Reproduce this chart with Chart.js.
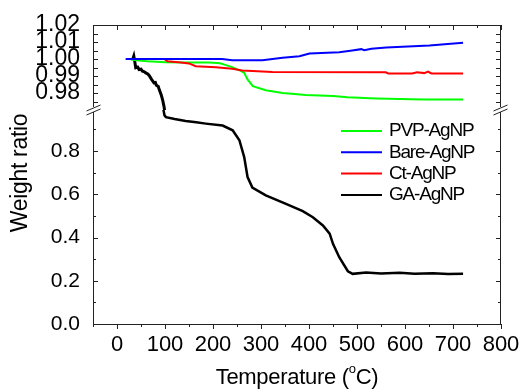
<!DOCTYPE html>
<html>
<head>
<meta charset="utf-8">
<script src="https://cdn.jsdelivr.net/npm/chart.js@4.4.0/dist/chart.umd.min.js"></script>
<style>
  html, body { margin: 0; padding: 0; background: #fff; }
</style>
</head>
<body>
<canvas id="tga" width="523" height="389"></canvas>
<script>
// Weight ratio vs temperature (TGA)
var bareTemp = [18, 100, 219, 240, 303, 345, 380, 401, 463, 490, 509, 515, 530, 561, 651, 721];
var bareRatio = [1.000, 1.000, 1.000, 0.9993, 0.9993, 1.0007, 1.0016, 1.0032, 1.0040, 1.0050, 1.0058, 1.0052, 1.0060, 1.0068, 1.0080, 1.0095];

var ctTemp = [25, 98, 105, 133, 150, 164, 206, 240, 261, 324, 560, 565, 615, 625, 640, 648, 655, 721];
var ctRatio = [1.000, 1.000, 0.9987, 0.998, 0.9974, 0.9958, 0.9952, 0.9942, 0.9932, 0.9924, 0.9922, 0.9915, 0.9915, 0.9922, 0.9917, 0.9926, 0.9915, 0.9914];

var pvpTemp = [30, 63, 101, 150, 192, 215, 227, 240, 248, 258, 265, 272, 283, 310, 345, 394, 450, 480, 540, 640, 721];
var pvpRatio = [0.9995, 0.9987, 0.9981, 0.998, 0.998, 0.9975, 0.9964, 0.9952, 0.9942, 0.993, 0.9919, 0.988, 0.984, 0.9816, 0.980, 0.9788, 0.9783, 0.9775, 0.9768, 0.9762, 0.9762];

// GA-AgNP crosses the axis break: upper part and lower part
var gaTopTemp = [33, 35, 37, 39, 43, 46, 50, 53, 57, 60, 64, 67, 72, 77, 80, 82, 86, 88, 92, 95, 98, 101];
var gaTopRatio = [1.000, 1.0017, 0.9985, 0.9948, 0.9952, 0.9938, 0.9940, 0.9928, 0.9925, 0.9918, 0.9912, 0.9903, 0.988, 0.986, 0.9862, 0.9845, 0.9838, 0.982, 0.979, 0.976, 0.972, 0.966];
var gaLowTemp = [96, 99, 102, 120, 143, 165, 185, 220, 241, 255, 265, 272, 282, 310, 352, 387, 408, 429, 443, 450, 463, 481, 491, 519, 550, 589, 620, 658, 690, 721];
var gaLowRatio = [1.0, 0.965, 0.957, 0.948, 0.939, 0.933, 0.927, 0.918, 0.896, 0.850, 0.772, 0.680, 0.631, 0.595, 0.556, 0.522, 0.494, 0.456, 0.418, 0.371, 0.309, 0.244, 0.232, 0.238, 0.234, 0.237, 0.233, 0.235, 0.231, 0.232];

var xTicks = [0, 100, 200, 300, 400, 500, 600, 700, 800];
var yLowTicks = [0, 0.2, 0.4, 0.6, 0.8];
var yTopTicks = [0.98, 0.99, 1.00, 1.01, 1.02];

var legendNames = ['PVP-AgNP', 'Bare-AgNP', 'Ct-AgNP', 'GA-AgNP'];
var legendColors = ['#00ff00', '#0000ff', '#ff0000', '#000000'];

function pts(xs, ys) {
    return xs.map(function(x, i) { return { x: x, y: ys[i] }; });
}

var FONT = '"Liberation Sans", Arial, sans-serif';

// clip every dataset to the band of its own y axis
var clipByAxis = {
    id: 'clipByAxis',
    beforeDatasetDraw: function(chart, args) {
        var ys = chart.scales[args.meta.yAxisID];
        var a = chart.chartArea;
        chart.ctx.save();
        chart.ctx.beginPath();
        chart.ctx.rect(a.left, ys.top, a.right - a.left, ys.bottom - ys.top);
        chart.ctx.clip();
    },
    afterDatasetDraw: function(chart) {
        chart.ctx.restore();
    }
};

// frame, tick marks, axis break, legend and titles
var decorations = {
    id: 'decorations',
    afterDraw: function(chart) {
        var ctx = chart.ctx;
        var a = chart.chartArea;
        var sx = chart.scales.x, yt = chart.scales.yTop, yl = chart.scales.y;
        var breakY = yt.bottom;
        ctx.save();
        ctx.strokeStyle = '#222';
        ctx.lineWidth = 1;
        ctx.strokeRect(a.left + 0.5, a.top + 0.5, a.right - a.left - 1, a.bottom - a.top);

        ctx.beginPath();
        // x ticks (major + minor), outward at bottom, inward at top
        for (var v = -50; v <= 800; v += 50) {
            var px = Math.round(sx.getPixelForValue(v)) + 0.5;
            var len = (v % 100 === 0) ? 5 : 3;
            ctx.moveTo(px, a.bottom); ctx.lineTo(px, a.bottom + len);
            ctx.moveTo(px, a.top); ctx.lineTo(px, a.top + len);
        }
        // lower y ticks
        for (var k = 0; k <= 9; k++) {
            var py = Math.round(yl.getPixelForValue(k / 10)) + 0.5;
            var l2 = (k % 2 === 0) ? 5 : 3;
            ctx.moveTo(a.left, py); ctx.lineTo(a.left + l2, py);
            ctx.moveTo(a.right, py); ctx.lineTo(a.right - l2, py);
        }
        // upper y ticks
        for (var j = 0; j <= 9; j++) {
            var val = 0.975 + j * 0.005;
            var py2 = Math.round(yt.getPixelForValue(val)) + 0.5;
            ctx.moveTo(a.left, py2); ctx.lineTo(a.left + 5, py2);
            ctx.moveTo(a.right, py2); ctx.lineTo(a.right - 5, py2);
        }
        ctx.stroke();

        // axis break marks
        [a.left + 0.5, a.right - 0.5].forEach(function(bx) {
            ctx.fillStyle = '#fff';
            ctx.fillRect(bx - 3, breakY - 3, 6, 5);
            ctx.beginPath();
            ctx.moveTo(bx - 7, breakY + 1); ctx.lineTo(bx + 7, breakY - 5);
            ctx.moveTo(bx - 7, breakY + 5); ctx.lineTo(bx + 7, breakY - 1);
            ctx.stroke();
        });

        // legend
        ctx.textBaseline = 'middle';
        ctx.textAlign = 'left';
        ctx.font = '19px ' + FONT;
        ctx.letterSpacing = '-1.2px';
        legendNames.forEach(function(name, i) {
            var ly = 131 + i * 21.3;
            ctx.strokeStyle = legendColors[i];
            ctx.lineWidth = 2;
            ctx.beginPath();
            ctx.moveTo(341, ly); ctx.lineTo(382, ly);
            ctx.stroke();
            ctx.fillStyle = '#000';
            ctx.fillText(name, 389, ly);
        });

        // x title with superscript o
        ctx.fillStyle = '#000';
        ctx.font = '22px ' + FONT;
        ctx.letterSpacing = '-0.3px';
        var t1 = 'Temperature (', t2 = 'o', t3 = 'C)';
        var w1 = ctx.measureText(t1).width, w3 = ctx.measureText(t3).width;
        ctx.font = '13px ' + FONT;
        var w2 = ctx.measureText(t2).width;
        var startX = 297 - (w1 + w2 + w3) / 2;
        ctx.textBaseline = 'alphabetic';
        ctx.font = '22px ' + FONT;
        ctx.fillText(t1, startX, 384);
        ctx.font = '13px ' + FONT;
        ctx.fillText(t2, startX + w1, 373);
        ctx.font = '22px ' + FONT;
        ctx.fillText(t3, startX + w1 + w2, 384);

        // y title
        ctx.save();
        ctx.translate(21, 173);
        ctx.rotate(-Math.PI / 2);
        ctx.textAlign = 'center';
        ctx.textBaseline = 'middle';
        ctx.font = '23px ' + FONT;
        ctx.letterSpacing = '-0.3px';
        ctx.fillText('Weight ratio', 0, 0);
        ctx.restore();
        ctx.restore();
    }
};

function fixedTicks(list) {
    return function(scale) {
        scale.ticks = list.map(function(v) { return { value: v }; });
    };
}

var line = function(label, data, color, axis, width) {
    return {
        label: label,
        data: data,
        borderColor: color,
        borderWidth: width,
        pointRadius: 0,
        tension: 0,
        fill: false,
        yAxisID: axis
    };
};

var ctx = document.getElementById('tga').getContext('2d');
var tgaChart = new Chart(ctx, {
    type: 'line',
    data: {
        datasets: [
            line('Bare-AgNP', pts(bareTemp, bareRatio), '#0000ff', 'yTop', 2),
            line('Ct-AgNP', pts(ctTemp, ctRatio), '#ff0000', 'yTop', 2),
            line('PVP-AgNP', pts(pvpTemp, pvpRatio), '#00ff00', 'yTop', 2),
            line('GA-AgNP', pts(gaTopTemp, gaTopRatio), '#000000', 'yTop', 3),
            line('GA-AgNP', pts(gaLowTemp, gaLowRatio), '#000000', 'y', 2.5)
        ]
    },
    options: {
        responsive: false,
        animation: false,
        events: [],
        layout: { padding: { top: 25, right: 22, left: 0, bottom: 0 } },
        plugins: { legend: { display: false }, tooltip: { enabled: false } },
        scales: {
            x: {
                type: 'linear',
                min: -50,
                max: 800,
                afterBuildTicks: fixedTicks(xTicks),
                afterFit: function(s) { s.height = 65; },
                grid: { display: false },
                border: { display: false },
                ticks: { color: '#000', padding: 0, maxRotation: 0, autoSkip: false, font: { family: FONT, size: 22 } }
            },
            y: {
                type: 'linear',
                position: 'left',
                stack: 'tga',
                stackWeight: 214,
                min: 0,
                max: 0.99,
                afterBuildTicks: fixedTicks(yLowTicks),
                afterFit: function(s) { s.width = 93; },
                grid: { display: false },
                border: { display: false },
                ticks: {
                    color: '#000', padding: 5, autoSkip: false, font: { family: FONT, size: 21 },
                    callback: function(v) { return v.toFixed(1); }
                }
            },
            yTop: {
                type: 'linear',
                position: 'left',
                stack: 'tga',
                stackWeight: 85,
                min: 0.97,
                max: 1.02,
                afterBuildTicks: fixedTicks(yTopTicks),
                afterFit: function(s) { s.width = 93; },
                grid: { display: false },
                border: { display: false },
                ticks: {
                    color: '#000', padding: 5, autoSkip: false, font: { family: FONT, size: 23 },
                    callback: function(v) { return v.toFixed(2); }
                }
            }
        }
    },
    plugins: [clipByAxis, decorations]
});
</script>
</body>
</html>
